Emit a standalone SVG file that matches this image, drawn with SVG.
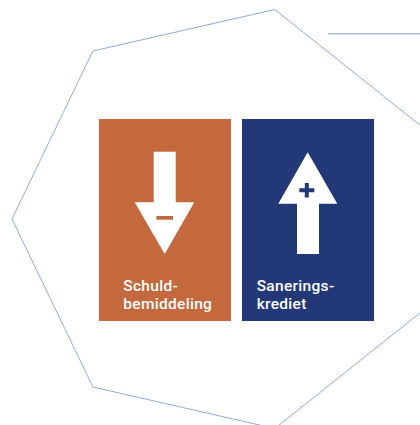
<svg xmlns="http://www.w3.org/2000/svg" width="420" height="425" viewBox="0 0 420 425">
<style>
.outline{fill:none;stroke:#8eaadf;stroke-width:1}
.topline{stroke:#a9c0e8;stroke-width:1.5}
.orange{fill:#c4683d}
.blue{fill:#233876}
.white{fill:#ffffff}
.label{font-family:Roboto,"Liberation Sans",sans-serif;font-weight:500;font-size:15.5px;letter-spacing:0.3px;fill:#ffffff}
</style>
<g id="background">
<polygon class="outline" points="274.8,9.5 92.9,51 12,219 92.9,387 274.8,428.5 420.7,312.3 420.7,125.7"/>
<line class="topline" x1="328" y1="33.7" x2="420" y2="33.7"/>
</g>
<g id="schuldbemiddeling">
<rect class="orange" x="99" y="119" width="132" height="202"/>
<polygon class="white" points="153.7,151.7 175.7,151.7 175.7,202.3 194.3,202.3 164.7,254 134.7,202.3 153.7,202.3"/>
<rect class="orange" x="156.3" y="216" width="16.7" height="3.7"/>
<text class="label" x="123.3" y="290.7">Schuld-</text>
<text class="label" x="123.3" y="309.3">bemiddeling</text>
</g>
<g id="saneringskrediet">
<rect class="blue" x="242" y="119" width="132" height="202"/>
<polygon class="white" points="307.7,152.3 337.3,203.7 319,203.7 319,254 297,254 297,203.7 278.3,203.7"/>
<path d="M299.3,190.3 H314.3 M306.8,183 V197.6" stroke="#233876" stroke-width="4" fill="none"/>
<text class="label" x="256.7" y="290.7">Sanerings-</text>
<text class="label" x="256.7" y="309.3">krediet</text>
</g>
</svg>
